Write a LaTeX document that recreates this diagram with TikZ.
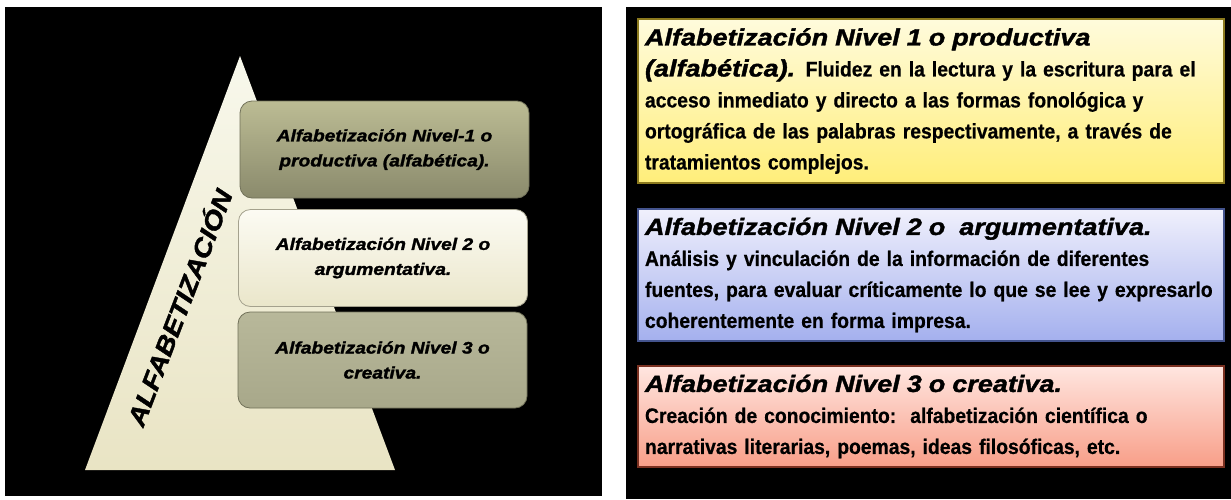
\documentclass[tikz,border=0pt]{standalone}
\usepackage{fontspec}
\setmainfont{Liberation Sans}
\newfontfamily\widefont[FakeStretch=1.15,FakeBold=1.6]{Liberation Sans}
\newfontfamily\narrowfont[FakeStretch=0.92,FakeBold=0.6]{Liberation Sans}
\usetikzlibrary{positioning}

\definecolor{pyrtop}{HTML}{F8F8EC}
\definecolor{pyrbot}{HTML}{E9E4C4}
\definecolor{oliveA}{HTML}{BCBC94}
\definecolor{oliveB}{HTML}{8A8A6C}
\definecolor{creamA}{HTML}{FCFBF3}
\definecolor{creamB}{HTML}{EAE6CA}
\definecolor{sageA}{HTML}{B8B89A}
\definecolor{sageB}{HTML}{A8A88A}
\definecolor{yelA}{HTML}{FFFBDC}
\definecolor{yelB}{HTML}{FFEE7A}
\definecolor{yelD}{HTML}{8C7A1E}
\definecolor{bluA}{HTML}{F0F0FC}
\definecolor{bluB}{HTML}{A4B0EE}
\definecolor{bluD}{HTML}{44548E}
\definecolor{redA}{HTML}{FFE6E0}
\definecolor{redB}{HTML}{F89E88}
\definecolor{redD}{HTML}{7A3020}

\newcommand{\headtxt}[1]{{\widefont\bfseries\itshape\fontsize{23.5}{31}\selectfont #1}}

\begin{document}
\begin{tikzpicture}[x=1pt, y=-1pt,
    levelbox/.style={draw=black!40!oliveA, line width=0.8pt, rectangle, rounded corners=12pt,
      minimum width=289, minimum height=97, inner sep=0pt, align=center,
      font=\widefont\bfseries\itshape\fontsize{16.7}{25}\selectfont},
    infobox/.style={rectangle, line width=1.2pt, minimum width=586, inner sep=7pt,
      text width=572, align=left,
      font=\narrowfont\bfseries\fontsize{21}{31}\selectfont}]
    \useasboundingbox (0,0) rectangle (1231,499);
    \fill[white] (0,0) rectangle (1231,499);

    % Left panel: pyramid
    \fill[black] (5,7) rectangle (602,496);
    \shade[top color=pyrtop, bottom color=pyrbot] (240,56) -- (395,470) -- (85,470) -- cycle;
    \node[rotate=69, inner sep=0pt, font=\widefont\bfseries\itshape\fontsize{25}{30}\selectfont] (alfa) at (178,307) {ALFABETIZACIÓN};

    % Levels
    \node[levelbox, top color=oliveA, bottom color=oliveB] (lvone) at (384.5,149.5) {Alfabetización Nivel-1 o\\productiva (alfabética).};
    \node[levelbox, top color=creamA, bottom color=creamB, draw=creamB!70!black] (lvtwo) at (383,258) {Alfabetización Nivel 2 o\\argumentativa.};
    \node[levelbox, top color=sageA, bottom color=sageB, minimum height=96] (lvthree) at (382.5,360) {Alfabetización Nivel 3 o\\creativa.};

    % Right panel: descriptions
    \fill[black] (626,7) rectangle (1231,499);
    \node[infobox, top color=yelA, bottom color=yelB, draw=yelD, minimum height=164] (descone) at (931,101)
      {\headtxt{Alfabetización Nivel 1 o productiva}\\
       \headtxt{(alfabética).} Fluidez en la lectura y la escritura para el\\
       acceso inmediato y directo a las formas fonológica y\\
       ortográfica de las palabras respectivamente, a través de\\
       tratamientos complejos.};
    \node[infobox, top color=bluA, bottom color=bluB, draw=bluD, minimum height=132] (desctwo) at (931,275)
      {\headtxt{Alfabetización Nivel 2 o~~argumentativa.}\\
       Análisis y vinculación de la información de diferentes\\
       fuentes, para evaluar críticamente lo que se lee y expresarlo\\
       coherentemente en forma impresa.};
    \node[infobox, top color=redA, bottom color=redB, draw=redD, minimum height=101] (descthree) at (931,416.5)
      {\headtxt{Alfabetización Nivel 3 o creativa.}\\
       Creación de conocimiento:~~alfabetización científica o\\
       narrativas literarias, poemas, ideas filosóficas, etc.};
\end{tikzpicture}
\end{document}
